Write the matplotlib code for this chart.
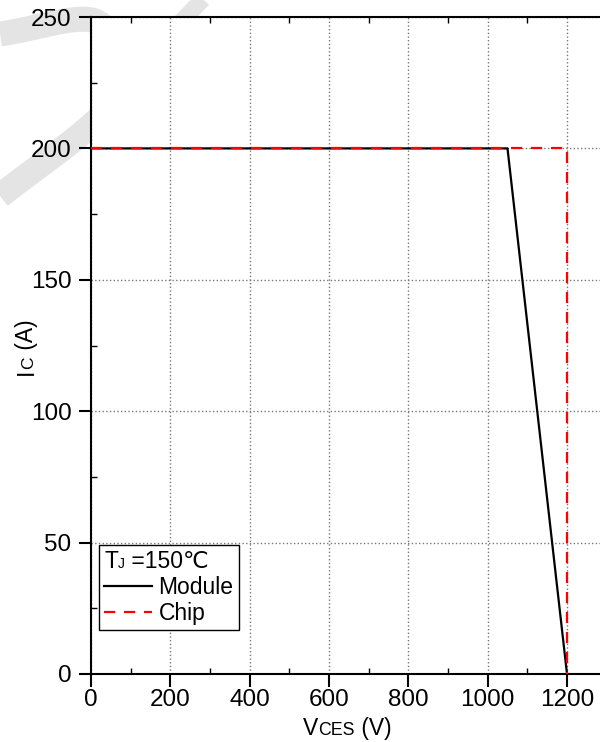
import matplotlib
matplotlib.use("Agg")
import matplotlib.pyplot as plt
from matplotlib.lines import Line2D
from matplotlib.path import Path
from matplotlib.patches import PathPatch
from matplotlib.transforms import IdentityTransform, Affine2D
from matplotlib.ticker import MultipleLocator

plt.rcParams['font.family'] = ['Liberation Sans', 'DejaVu Sans']

# Safe operating area: module limit vs chip limit
module_v = [0, 1050, 1200]
module_i = [200, 200, 0]
chip_v = [0, 1200, 1200]
chip_i = [200, 200, 0]
x_ticks = [0, 200, 400, 600, 800, 1000, 1200]
y_ticks = [0, 50, 100, 150, 200, 250]

W, H = 600, 742
FS = 17.5
LABFS = 16.5
LFS = 16.5
fig = plt.figure(figsize=(W / 100, H / 100), dpi=100)
px200 = (567 - 91) / 6.0
ax = fig.add_axes([91 / W, (H - 674) / H, 6.5 * px200 / W, (674 - 17) / H])
ax.set_facecolor('white')

# faint background watermark stroke (pixel coordinates, y downward)
flip = Affine2D().scale(1, -1).translate(0, H)
wm_s = Path([(0, 34), (40, 28), (70, 16), (92, 20),
             (125, 30), (130, 90), (95, 122),
             (70, 145), (30, 172), (0, 196)],
            [Path.MOVETO, Path.CURVE4, Path.CURVE4, Path.CURVE4,
             Path.CURVE4, Path.CURVE4, Path.CURVE4,
             Path.CURVE4, Path.CURVE4, Path.CURVE4])
wm_d = Path([(150, 54), (204, -2)], [Path.MOVETO, Path.LINETO])
for p, lw in ((wm_s, 18), (wm_d, 12)):
    fig.patches.append(PathPatch(p, transform=flip, fill=False, edgecolor='#e4e4e4',
                                 lw=lw, capstyle='butt', zorder=-5))

ax.plot(module_v, module_i, color='black', lw=1.6, zorder=3)
ax.plot(chip_v, chip_i, color='red', lw=1.6, linestyle=(0, (5, 4)), zorder=4)

ax.set_xlim(0, 1300)
ax.set_ylim(0, 250)
ax.set_xticks(x_ticks)
ax.set_yticks(y_ticks)
ax.xaxis.set_minor_locator(MultipleLocator(100))
ax.yaxis.set_minor_locator(MultipleLocator(25))
ax.tick_params(which='major', direction='out', length=9, width=1.5,
               labelsize=FS, top=False, right=False)
ax.tick_params(axis='y', which='major', pad=5)
ax.tick_params(axis='x', which='major', pad=2)
ax.tick_params(which='minor', direction='in', length=4, width=1,
               top=True, right=False)
ax.grid(True, which='major', color='#777777', linestyle=':', lw=1)
for s in ('left', 'bottom', 'top'):
    ax.spines[s].set_linewidth(1.5)
ax.spines['right'].set_visible(False)

handles = [Line2D([], [], color='black', lw=1.6),
           Line2D([], [], color='red', lw=1.6, linestyle=(0, (5, 4)))]
axw = 6.5 * px200
axh = 674 - 17
leg = ax.legend(handles, ['Module', 'Chip'], title='TJ =150\u2103',
                loc='lower left', bbox_to_anchor=((99 - 91) / axw, (674 - 630) / axh),
                borderaxespad=0, fontsize=LFS, title_fontsize=LFS,
                frameon=True, fancybox=False, edgecolor='black', framealpha=1,
                handlelength=2.1, handletextpad=0.28, labelspacing=0.14,
                borderpad=0.22, alignment='left')
leg.get_frame().set_linewidth(1.0)
leg.get_title().set_alpha(0)

fig.canvas.draw()
renderer = fig.canvas.get_renderer()
ident = IdentityTransform()


def text_width(s, size):
    t = fig.text(0, 0, s, fontsize=size, transform=ident)
    w = t.get_window_extent(renderer).width
    t.remove()
    return w


def runs_width(parts):
    return sum(text_width(s, sz) for s, sz in parts)


def draw_runs(x, y, parts, rotation=0):
    for s, sz in parts:
        fig.text(x, y, s, fontsize=sz, transform=ident, ha='left', va='baseline',
                 rotation=rotation, rotation_mode='anchor')
        w = text_width(s, sz)
        if rotation == 90:
            y += w
        else:
            x += w


# axis labels with small-cap subscripts
xparts = [('V', LABFS), ('CES', 12.8), (' (V)', LABFS)]
draw_runs(347.5 - runs_width(xparts) / 2, H - 735, xparts)
yparts = [('I', LABFS), ('C', 12.5), (' (A)', LABFS)]
draw_runs(33, (H - 347.5) - runs_width(yparts) / 2, yparts, rotation=90)

# legend title
tb = leg.get_title().get_window_extent(renderer)
probe = fig.text(0, 0, 'T', fontsize=LFS, transform=ident, va='baseline')
desc = -probe.get_window_extent(renderer).y0
probe.remove()
draw_runs(tb.x0, tb.y0 + desc, [('T', LFS), ('J', 10), (' =150', LFS), ('\u2103', LFS)])

fig.savefig('out.png', dpi=100)
